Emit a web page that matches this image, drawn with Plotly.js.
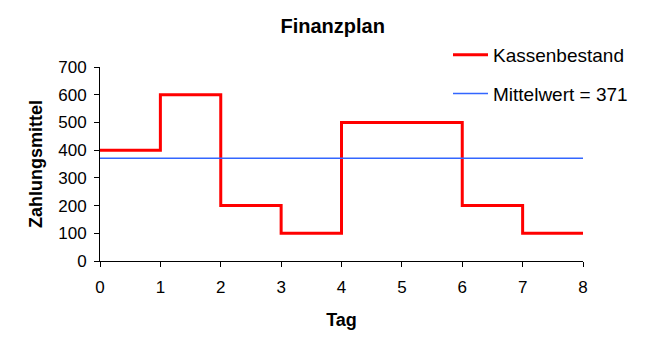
<!DOCTYPE html>
<html><head><meta charset="utf-8">
<script src="https://cdn.plot.ly/plotly-3.0.1.min.js"></script>
<style>html,body{margin:0;padding:0;background:#fff}</style>
</head><body>
<div id="chart" style="width:646px;height:351px"></div>
<script>
const tage = [0, 1, 2, 3, 4, 5, 6, 7, 8];
const kassenbestand = [400, 600, 200, 100, 500, 500, 200, 100, 100];
const mittelX = [0, 8];
const mittelwert = 371;
const xTicks = [0, 1, 2, 3, 4, 5, 6, 7, 8];
const yTicks = [0, 100, 200, 300, 400, 500, 600, 700];

const font = "Liberation Sans, Arial, sans-serif";
const traces = [
  {x: tage, y: kassenbestand, mode: 'lines', line: {shape: 'hv', color: '#ff0000', width: 3},
   name: 'Kassenbestand', legendgroup: 'a'},
  {x: mittelX, y: mittelX.map(() => mittelwert), mode: 'lines', line: {color: '#3366ff', width: 1.5},
   name: 'Mittelwert = ' + mittelwert, legendgroup: 'b'}
];
const layout = {
  width: 646, height: 351,
  margin: {l: 100, r: 63, t: 67, b: 90},
  paper_bgcolor: '#fff', plot_bgcolor: '#fff',
  font: {family: font, color: '#000', size: 17},
  title: {text: '<b>Finanzplan</b>', font: {size: 20, family: font}, x: 0.515, xanchor: 'center', y: 0.925, yanchor: 'middle'},
  xaxis: {range: [0, 8], tickvals: xTicks, ticks: 'outside', ticklen: 5, tickcolor: '#000',
    showline: true, linecolor: '#000', linewidth: 1, showgrid: false, zeroline: false,
    ticklabelstandoff: 6, tickfont: {size: 17},
    title: {text: '<b>Tag</b>', font: {size: 18, family: font}, standoff: 16}},
  yaxis: {range: [0, 700], tickvals: yTicks, ticks: 'outside', ticklen: 5, tickcolor: '#000',
    showline: true, linecolor: '#000', linewidth: 1, showgrid: false, zeroline: false,
    ticklabelstandoff: 4, tickfont: {size: 17},
    title: {text: '<b>Zahlungsmittel</b>', font: {size: 18, family: font}, standoff: 10}},
  showlegend: true,
  legend: {x: (448 - 100) / 483, xanchor: 'left', y: 1.16, yanchor: 'top', traceorder: 'grouped', tracegroupgap: 11,
    font: {size: 19, family: font}, bgcolor: 'rgba(0,0,0,0)', itemwidth: 35}
};
Plotly.newPlot('chart', traces, layout, {displayModeBar: false, staticPlot: true});
</script>
</body></html>
